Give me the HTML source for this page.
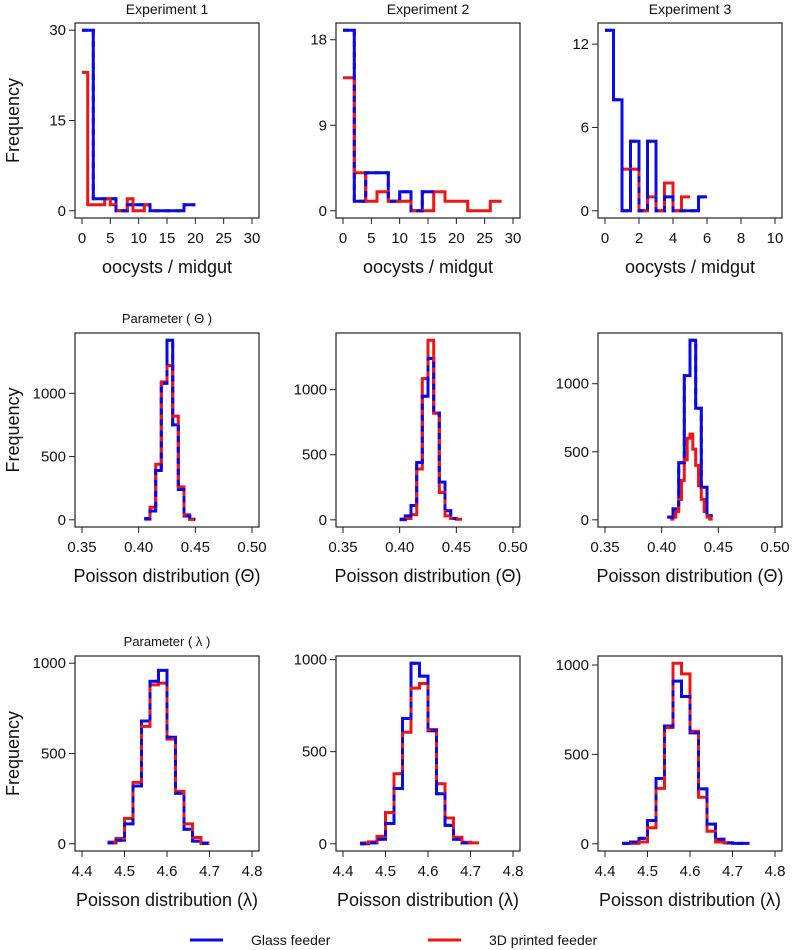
<!DOCTYPE html>
<html><head><meta charset="utf-8"><style>
body{margin:0;background:#fff;}
svg{display:block;font-family:"Liberation Sans",Arial,sans-serif;}
</style></head><body>
<svg id="fig" width="797" height="950" viewBox="0 0 797 950"></svg>
<script>
// ---- data (histogram counts) ----
const exp1BlueStart = 0, exp1BlueWidth = 2;
const exp1Blue = [30,2,2,0,1,1,0,0,0,1];
const exp1RedStart = 0, exp1RedWidth = 1;
const exp1Red = [23,1,1,1,2,1,0,0,2,0,0,1];
const exp2BlueStart = 0, exp2BlueWidth = 2;
const exp2Blue = [19,1,4,4,1,2,0,2];
const exp2RedStart = 0, exp2RedWidth = 2;
const exp2Red = [14,4,1,2,1,1,0,0,2,1,1,0,0,1];
const exp3BlueStart = 0, exp3BlueWidth = 0.5;
const exp3Blue = [13,8,0,5,0,5,0,1,0,0,0,1];
const exp3RedStart = 1, exp3RedWidth = 0.5;
const exp3Red = [3,3,0,1,0,2,0,1];

const theta1BlueStart = 0.405, theta1BlueWidth = 0.005;
const theta1Blue = [10,70,390,1080,1420,750,240,30,5];
const theta1RedStart = 0.405, theta1RedWidth = 0.005;
const theta1Red = [5,100,440,1090,1220,820,260,40,5];
const theta2BlueStart = 0.40, theta2BlueWidth = 0.005;
const theta2Blue = [5,30,110,440,950,1240,820,290,70,10];
const theta2RedStart = 0.40, theta2RedWidth = 0.005;
const theta2Red = [0,10,40,390,1085,1380,820,210,30,10,5];
const theta3BlueStart = 0.405, theta3BlueWidth = 0.005;
const theta3Blue = [20,80,420,1060,1320,820,240,30];
const theta3RedStart = 0.4075, theta3RedWidth = 0.0025;
const theta3Red = [5,20,60,150,290,440,600,630,520,400,250,150,60,20,5];

const lambda1BlueStart = 4.46, lambda1BlueWidth = 0.02;
const lambda1Blue = [5,20,110,320,680,900,960,590,280,80,15,2];
const lambda1RedStart = 4.46, lambda1RedWidth = 0.02;
const lambda1Red = [10,30,140,340,650,880,890,580,290,110,35,5];
const lambda2BlueStart = 4.44, lambda2BlueWidth = 0.02;
const lambda2Blue = [0,5,25,110,300,680,980,910,614,272,100,25,5];
const lambda2RedStart = 4.44, lambda2RedWidth = 0.02;
const lambda2Red = [5,10,40,170,380,605,845,870,620,326,140,35,8,5];
const lambda3BlueStart = 4.44, lambda3BlueWidth = 0.02;
const lambda3Blue = [2,10,30,130,365,659,910,824,620,307,110,25,5,2,2];
const lambda3RedStart = 4.46, lambda3RedWidth = 0.02;
const lambda3Red = [2,10,90,310,650,1010,950,630,260,70,10,5];

const yTicks1 = [0,15,30], yTicks2 = [0,9,18], yTicks3 = [0,6,12];
const xTicksOocyst = [0,5,10,15,20,25,30];
const xTicksOocyst3 = [0,2,4,6,8,10];
const yTicksPost = [0,500,1000];
const xTicksTheta = [0.35,0.40,0.45,0.50];
const xTicksLambda = [4.4,4.5,4.6,4.7,4.8];

const NS = "http://www.w3.org/2000/svg";
const svg = document.getElementById('fig');
function mk(tag, attrs, parent){
  const e = document.createElementNS(NS, tag);
  for (const k in attrs) e.setAttribute(k, attrs[k]);
  (parent||svg).appendChild(e);
  return e;
}
const cols = [75, 336, 598];
const rows = [{top:23,bot:218},{top:333,bot:527},{top:656,bot:851}];
const W = 184;

function stepPath(start, width, counts, sx, sy){
  let d = "M" + sx(start).toFixed(1) + "," + sy(counts[0]).toFixed(1);
  for (let i=0;i<counts.length;i++){
    if (i>0) d += " V" + sy(counts[i]).toFixed(1);
    d += " H" + sx(start + (i+1)*width).toFixed(1);
  }
  return d;
}

function panel(opt){
  const L = cols[opt.col], R = L + W, T = rows[opt.row].top, B = rows[opt.row].bot;
  const H = B - T;
  const g = mk('g', {});
  
  
  const sx = v => L + 7 + (v - opt.xmin) / (opt.xmax - opt.xmin) * (W - 14);
  const y0 = B - H*0.04/1.08;
  const sy = v => y0 - v * (H/1.08) / opt.ymax;
  const box = mk('rect', {x:L, y:T, width:W, height:H, fill:'none', stroke:'#222', 'stroke-width':1.2}, g);
  
  
  opt.yt.forEach(v => {
    const y = sy(v);
    mk('line', {x1:L-6, x2:L, y1:y, y2:y, stroke:'#222', 'stroke-width':1}, g);
    const t = mk('text', {x:L-9, y:y+5, 'text-anchor':'end', 'font-size':15, fill:'#111'}, g);
    t.textContent = v;
    
    
  });
  opt.xt.forEach(v => {
    const x = sx(v);
    mk('line', {x1:x, x2:x, y1:B, y2:B+6, stroke:'#222', 'stroke-width':1}, g);
    const t = mk('text', {x:x, y:B+25, 'text-anchor':'middle', 'font-size':15, fill:'#111'}, g);
    t.textContent = opt.xfmt ? opt.xfmt(v) : v;
    
    
  });
  const xt = mk('text', {x:L+W/2, y:B+55, 'text-anchor':'middle', 'font-size':18, fill:'#111'}, g);
  xt.textContent = opt.xlabel;
  
  
  if (opt.title){
    const tt = mk('text', {x:L+W/2, y:T-(opt.row===0?9:10), 'text-anchor':'middle', 'font-size':opt.row===0?14:13, fill:'#111'}, g);
    tt.textContent = opt.title;
    
    
  }
  if (opt.col === 0){
    const cy = (T+B)/2;
    const yl = mk('text', {x:0, y:0, 'text-anchor':'middle', 'font-size':18, fill:'#111', transform:'translate(19,'+cy+') rotate(-90)'}, g);
    yl.textContent = 'Frequency';
    
    
  }
  const b = opt.blue, r = opt.red;
  const pb = mk('path', {d:stepPath(b[0], b[1], b[2], sx, sy), fill:'none', stroke:'#0a0ae6', 'stroke-width':3}, g);
  
  
  const pr = mk('path', {d:stepPath(r[0], r[1], r[2], sx, sy), fill:'none', stroke:'#f01414', 'stroke-width':3}, g);
  
  
  const pd = mk('path', {d:stepPath(b[0], b[1], b[2], sx, sy), fill:'none', stroke:'#0a0ae6', 'stroke-width':3, 'stroke-dasharray':'6 5'}, g);
  
  
}

const fmt2 = v => v.toFixed(2), fmt1 = v => v.toFixed(1);
panel({name:'experiment-1-oocysts', row:0, col:0, xmin:0, xmax:30, ymax:30, yt:yTicks1, xt:xTicksOocyst, xlabel:'oocysts / midgut', title:'Experiment 1',
  blue:[exp1BlueStart,exp1BlueWidth,exp1Blue], red:[exp1RedStart,exp1RedWidth,exp1Red]});
panel({name:'experiment-2-oocysts', row:0, col:1, xmin:0, xmax:30, ymax:19, yt:yTicks2, xt:xTicksOocyst, xlabel:'oocysts / midgut', title:'Experiment 2',
  blue:[exp2BlueStart,exp2BlueWidth,exp2Blue], red:[exp2RedStart,exp2RedWidth,exp2Red]});
panel({name:'experiment-3-oocysts', row:0, col:2, xmin:0, xmax:10, ymax:13, yt:yTicks3, xt:xTicksOocyst3, xlabel:'oocysts / midgut', title:'Experiment 3',
  blue:[exp3BlueStart,exp3BlueWidth,exp3Blue], red:[exp3RedStart,exp3RedWidth,exp3Red]});

panel({name:'experiment-1-theta', row:1, col:0, xmin:0.35, xmax:0.5, ymax:1420, yt:yTicksPost, xt:xTicksTheta, xfmt:fmt2, xlabel:'Poisson distribution (\u0398)', title:'Parameter ( \u0398 )',
  blue:[theta1BlueStart,theta1BlueWidth,theta1Blue], red:[theta1RedStart,theta1RedWidth,theta1Red]});
panel({name:'experiment-2-theta', row:1, col:1, xmin:0.35, xmax:0.5, ymax:1380, yt:yTicksPost, xt:xTicksTheta, xfmt:fmt2, xlabel:'Poisson distribution (\u0398)',
  blue:[theta2BlueStart,theta2BlueWidth,theta2Blue], red:[theta2RedStart,theta2RedWidth,theta2Red]});
panel({name:'experiment-3-theta', row:1, col:2, xmin:0.35, xmax:0.5, ymax:1320, yt:yTicksPost, xt:xTicksTheta, xfmt:fmt2, xlabel:'Poisson distribution (\u0398)',
  blue:[theta3BlueStart,theta3BlueWidth,theta3Blue], red:[theta3RedStart,theta3RedWidth,theta3Red]});

panel({name:'experiment-1-lambda', row:2, col:0, xmin:4.4, xmax:4.8, ymax:1000, yt:yTicksPost, xt:xTicksLambda, xfmt:fmt1, xlabel:'Poisson distribution (\u03bb)', title:'Parameter ( \u03bb )',
  blue:[lambda1BlueStart,lambda1BlueWidth,lambda1Blue], red:[lambda1RedStart,lambda1RedWidth,lambda1Red]});
panel({name:'experiment-2-lambda', row:2, col:1, xmin:4.4, xmax:4.8, ymax:980, yt:yTicksPost, xt:xTicksLambda, xfmt:fmt1, xlabel:'Poisson distribution (\u03bb)',
  blue:[lambda2BlueStart,lambda2BlueWidth,lambda2Blue], red:[lambda2RedStart,lambda2RedWidth,lambda2Red]});
panel({name:'experiment-3-lambda', row:2, col:2, xmin:4.4, xmax:4.8, ymax:1010, yt:yTicksPost, xt:xTicksLambda, xfmt:fmt1, xlabel:'Poisson distribution (\u03bb)',
  blue:[lambda3BlueStart,lambda3BlueWidth,lambda3Blue], red:[lambda3RedStart,lambda3RedWidth,lambda3Red]});

const lg = mk('g', {});


const l1 = mk('line', {x1:190, x2:223, y1:940, y2:940, stroke:'#0a0ae6', 'stroke-width':3}, lg);


const t1 = mk('text', {x:251, y:945, 'font-size':14, fill:'#111'}, lg);
t1.textContent = 'Glass feeder';


const l2 = mk('line', {x1:428, x2:461, y1:940, y2:940, stroke:'#f01414', 'stroke-width':3}, lg);


const t2 = mk('text', {x:489, y:945, 'font-size':14, fill:'#111'}, lg);
t2.textContent = '3D printed feeder';


</script>
</body></html>
